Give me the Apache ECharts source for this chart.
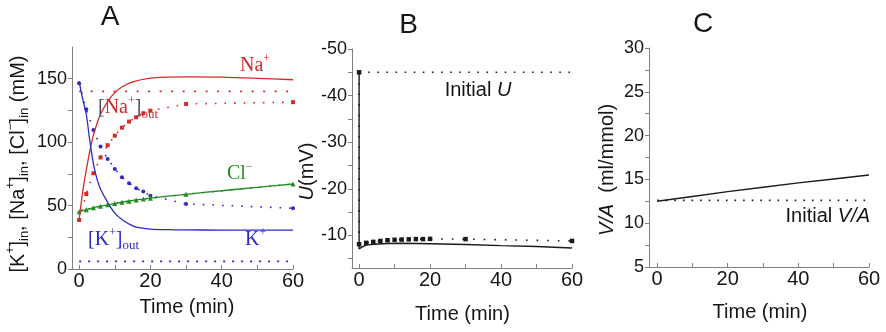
<!DOCTYPE html>
<html><head><meta charset="utf-8">
<script src="https://cdn.jsdelivr.net/npm/echarts@6/dist/echarts.min.js"></script>
<style>html,body{margin:0;padding:0;background:#fff}#c{width:886px;height:332px}</style>
</head><body><div id="c"></div>
<script>
// ---------- data ----------
const timeLabels = [0, 20, 40, 60];
const timeTicks = [0, 10, 20, 30, 40, 50, 60];
const refSpan = [0, 60];

// Panel A
const yLabelsA = [0, 50, 100, 150];
const yTicksA = [0, 25, 50, 75, 100, 125, 150];
const naModelT = [0, 1, 2, 3, 4, 5, 6, 8, 10, 12, 15, 20, 25, 30, 40, 50, 60];
const naModelV = [38.6, 61, 78, 93, 105.5, 114.5, 122, 132, 139, 143.5, 147.5, 150.5, 151.3, 151.5, 151.2, 150.3, 149.2];
const kModelT = [0, 1, 2, 3, 4, 5, 6, 8, 10, 12, 14, 16, 20, 25, 30, 40, 60];
const kModelV = [148, 134, 122, 101, 83, 71, 63, 52.5, 44, 39, 35.5, 33, 31.5, 31, 30.8, 30.7, 30.7];
const clModelT = [0, 5, 10, 15, 20, 30, 40, 50, 60];
const clModelV = [45.2, 49, 51.6, 54, 55.8, 58.9, 61.7, 64.4, 67];
const sampleT = [0, 2, 4, 6, 8, 10, 12, 14, 16, 18, 20, 30, 60];
const naData = [38.6, 59.1, 75.5, 87.9, 97.6, 105.1, 111.4, 116.2, 119.6, 122.8, 124.8, 130.1, 131.5];
const kData = [146.5, 125.9, 109.6, 96.5, 86.8, 78.9, 72.3, 67.6, 63.6, 61, 57.8, 51.3, 47.9];
const clData = [45.2, 46.8, 48.3, 49.5, 50.6, 51.6, 52.6, 53.5, 54.3, 55.1, 55.8, 58.9, 67];
const naOut = 140;
const kOut = 6;

// Panel B
const yLabelsB = [-50, -40, -30, -20, -10];
const yTicksB = [-50, -45, -40, -35, -30, -25, -20, -15, -10, -5];
const uModelT = [0, 0, 1, 2, 4, 8, 12, 20, 30, 40, 50, 60];
const uModelV = [-45, -7.1, -7.6, -7.9, -8.1, -8.25, -8.3, -8.2, -8.05, -7.8, -7.6, -7.3];
const uDataT = [0, 0, 2, 4, 6, 8, 10, 12, 14, 16, 18, 20, 30, 60];
const uDataV = [-45, -8.1, -8.4, -8.6, -8.8, -8.95, -9.05, -9.1, -9.15, -9.2, -9.2, -9.25, -9.2, -8.8];
const uInitial = -45;

// Panel C
const yLabelsC = [5, 10, 15, 20, 25, 30];
const yTicksC = [5, 7.5, 10, 12.5, 15, 17.5, 20, 22.5, 25, 27.5, 30];
const vaT = [0, 10, 20, 30, 40, 50, 60];
const vaV = [12.5, 13.05, 13.6, 14.1, 14.6, 15.05, 15.5];
const vaInitial = 12.6;

// ---------- helpers ----------
const zip = (xs, ys) => xs.map((x, i) => [x, ys[i]]);
const flat = (v) => refSpan.map(x => [x, v]);
const SANS = 'Liberation Sans';
const SERIF = 'Liberation Serif';
const AX = '#808080';
const TXT = '#151515';
const RED = '#d42a2a', BLUE = '#2b2bc4', GREEN = '#228b22', BLACK = '#1a1a1a';

function xAx(g, min) {
  return {type: 'value', gridIndex: g, min: min, max: 60,
    axisLine: {onZero: false, lineStyle: {color: AX, width: 1}},
    axisTick: {inside: true, length: 4, customValues: timeTicks, lineStyle: {color: AX}},
    axisLabel: {customValues: timeLabels, fontSize: 20, fontFamily: SANS, color: TXT, margin: 2},
    splitLine: {show: false}};
}
function yAx(g, min, max, labels, ticks, inverse) {
  return {type: 'value', gridIndex: g, min: min, max: max, inverse: !!inverse,
    axisLine: {onZero: false, lineStyle: {color: AX, width: 1}},
    axisTick: {inside: false, length: 4, customValues: ticks, lineStyle: {color: AX}},
    axisLabel: {customValues: labels, fontSize: 18, fontFamily: SANS, color: TXT, margin: 5},
    splitLine: {show: false}};
}
function line(xi, data, color, width, smooth) {
  return {type: 'line', xAxisIndex: xi, yAxisIndex: xi, data: data, symbol: 'none', smooth: smooth || false,
    lineStyle: {color: color, width: width}, silent: true, animation: false, z: 3};
}
function dots(xi, data, color, dash, symbol, size) {
  return {type: 'line', xAxisIndex: xi, yAxisIndex: xi, data: data,
    symbol: symbol || 'none', symbolSize: size || 0, showSymbol: !!symbol,
    itemStyle: {color: color, borderWidth: 0},
    lineStyle: {color: color, width: 1.6, type: dash, cap: 'butt'}, silent: true, animation: false, z: 2};
}

function txt(x, y, text, rich, opts) {
  opts = opts || {};
  return {type: 'text', x: x, y: y, rotation: opts.rot || 0, silent: true, z: 100,
    style: {text: text, rich: rich, fontSize: opts.size || 20, fontFamily: opts.family || SANS,
      fill: opts.fill || TXT, align: opts.align || 'center', verticalAlign: 'middle',
      textAlign: opts.align || 'center', textVerticalAlign: 'middle'}};
}
function richSet(family, color) {
  return {
    m: {fontSize: 20, fontFamily: family, fill: color, lineHeight: 26},
    i: {fontSize: 20, fontFamily: family, fill: color, fontStyle: 'italic', lineHeight: 26},
    s: {fontSize: 12, fontFamily: family, fill: color, lineHeight: 12, verticalAlign: 'top'},
    b: {fontSize: 13, fontFamily: family, fill: color, lineHeight: 13, verticalAlign: 'bottom'},
    g: {fontSize: 20, fontFamily: family, fill: '#505050', lineHeight: 26}
  };
}

const chart = echarts.init(document.getElementById('c'), null, {renderer: 'canvas'});
chart.setOption({
  animation: false,
  backgroundColor: '#ffffff',
  grid: [
    {left: 72, right: 593, top: 47, bottom: 63},
    {left: 352, right: 314, top: 49, bottom: 64},
    {left: 649, right: 17, top: 48, bottom: 65}
  ],
  xAxis: [xAx(0, -2), xAx(1, -2), xAx(2, -2.3)],
  yAxis: [
    yAx(0, 0, 175, yLabelsA, yTicksA),
    yAx(1, -50, -3, yLabelsB, yTicksB, true),
    yAx(2, 5, 30, yLabelsC, yTicksC)
  ],
  series: [
    // Panel A
    dots(0, flat(naOut), RED, [2, 9.5]),
    dots(0, flat(kOut), BLUE, [2, 7]),
    dots(0, zip(sampleT, naData), RED, [1.6, 8], 'rect', 4),
    dots(0, zip(sampleT, kData), BLUE, [1.6, 8], 'circle', 4),
    dots(0, zip(sampleT, clData), GREEN, [1.6, 8], 'triangle', 5),
    line(0, zip(naModelT, naModelV), RED, 1.3, 0.3),
    line(0, zip(kModelT, kModelV), BLUE, 1.3, 0.3),
    line(0, zip(clModelT, clModelV), GREEN, 1.3, 0.3),
    // Panel B
    dots(1, flat(uInitial), BLACK, [1.6, 7.5]),
    dots(1, zip(uDataT, uDataV), BLACK, [1.6, 9], 'rect', 4.5),
    line(1, zip(uModelT, uModelV), BLACK, 1.4, false),
    // Panel C
    dots(2, flat(vaInitial), BLACK, [1.6, 7]),
    line(2, zip(vaT, vaV), BLACK, 1.4, false)
  ],
  graphic: [
    txt(110, 17, 'A', null, {size: 28}),
    txt(408.5, 25, 'B', null, {size: 28}),
    txt(703, 24, 'C', null, {size: 28}),
    txt(187, 307.5, 'Time (min)', null, {size: 20}),
    txt(462.5, 314, 'Time (min)', null, {size: 20}),
    txt(760, 312.5, 'Time (min)', null, {size: 20}),
    txt(18, 164, '{m|[K}{s|+}{m|]}{b|in}{m|, [Na}{s|+}{m|]}{b|in}{m|, [Cl}{s|\u2212}{m|]}{b|in}{m| (mM)}', richSet(SANS, TXT), {rot: Math.PI / 2}),
    txt(307, 171.5, '{i|U}{m|(mV)}', richSet(SANS, TXT), {rot: Math.PI / 2}),
    txt(607, 170, '{i|V/A}{m|  (ml/mmol)}', richSet(SANS, TXT), {rot: Math.PI / 2}),
    txt(478, 90, '{m|Initial }{i|U}', richSet(SANS, TXT)),
    txt(870, 216.5, '{m|Initial }{i|V/A}', richSet(SANS, TXT), {align: 'right'}),
    txt(240, 66, '{m|Na}{s|+}', richSet(SERIF, RED), {align: 'left'}),
    txt(98, 108, '{g|[}{m|Na}{s|+}{g|]}{b|out}', richSet(SERIF, RED), {align: 'left'}),
    txt(227, 173.5, '{m|Cl}{s|\u2212}', richSet(SERIF, GREEN), {align: 'left'}),
    txt(245, 240, '{m|K}{s|+}', richSet(SERIF, BLUE), {align: 'left'}),
    txt(88, 239.5, '{m|[K}{s|+}{m|]}{b|out}', richSet(SERIF, BLUE), {align: 'left'})
  ]
});
</script>
</body></html>
